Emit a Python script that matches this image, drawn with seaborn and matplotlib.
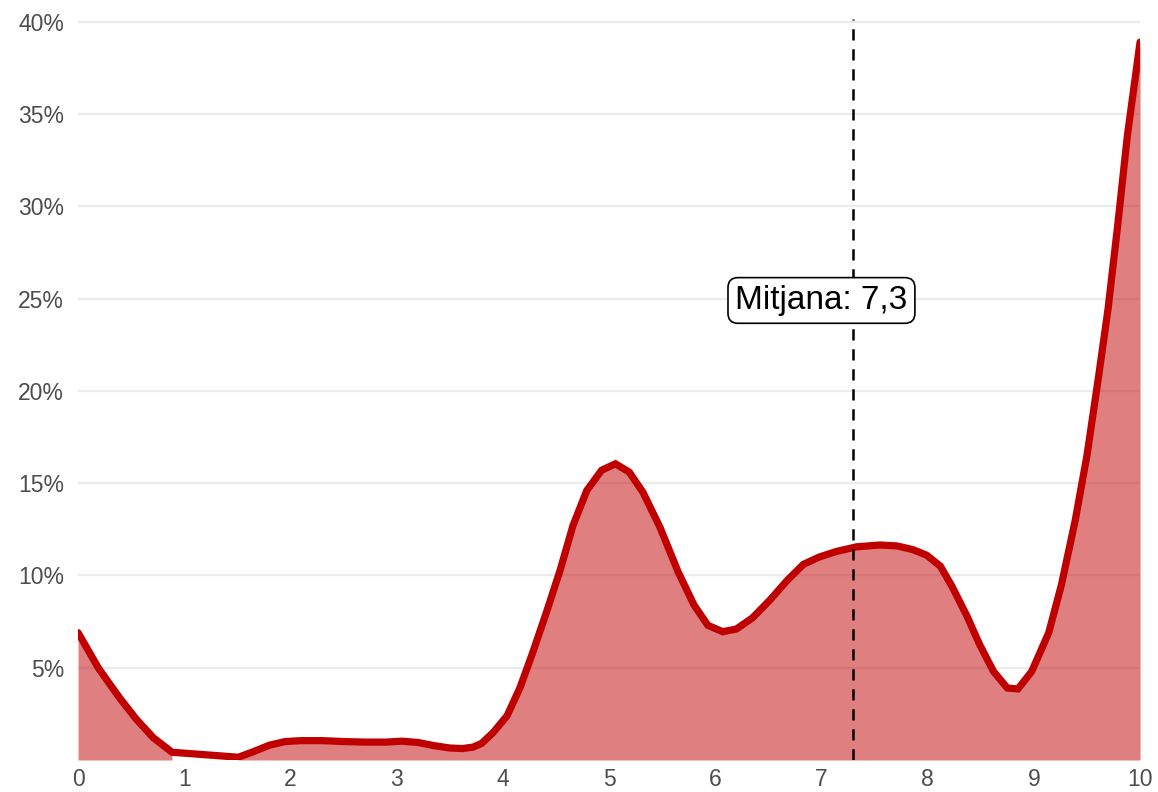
"""Distribution of scores (0-10) with the mean marked."""

import matplotlib

matplotlib.use("Agg")
import matplotlib.pyplot as plt
import numpy as np
import seaborn as sns
from matplotlib.ticker import FuncFormatter

# values (share of answers, in %)
# first stretch (filled)
score_low = [0.00, 0.10, 0.19, 0.30, 0.40, 0.55, 0.71, 0.80, 0.885]
share_low = [6.9, 5.9, 5.0, 4.1, 3.3, 2.2, 1.2, 0.8, 0.42]

# second stretch (filled)
score_high = [
    1.51, 1.65, 1.80, 1.95, 2.10, 2.30, 2.50, 2.70, 2.90, 3.05,
    3.20, 3.35, 3.50, 3.62, 3.72, 3.80, 3.91, 4.04, 4.16, 4.28,
    4.41, 4.54, 4.66, 4.79, 4.93, 5.06, 5.19, 5.32, 5.48, 5.65,
    5.80, 5.93, 6.07, 6.20, 6.35, 6.52, 6.68, 6.83, 6.98, 7.14,
    7.33, 7.55, 7.71, 7.86, 7.99, 8.12, 8.23, 8.37, 8.49, 8.62,
    8.75, 8.85, 8.98, 9.14, 9.26, 9.39, 9.50, 9.61, 9.70, 9.79,
    9.88, 10.0,
]
share_high = [
    0.15, 0.45, 0.80, 1.00, 1.05, 1.05, 1.00, 0.97, 0.97, 1.02,
    0.95, 0.78, 0.65, 0.62, 0.70, 0.90, 1.50, 2.40, 3.90, 5.80,
    8.00, 10.3, 12.7, 14.6, 15.7, 16.05, 15.6, 14.5, 12.6, 10.2,
    8.40, 7.30, 6.95, 7.10, 7.70, 8.70, 9.75, 10.6, 11.0, 11.3,
    11.55, 11.65, 11.6, 11.4, 11.1, 10.5, 9.40, 7.80, 6.25, 4.80,
    3.90, 3.85, 4.80, 6.90, 9.50, 13.0, 16.5, 20.8, 24.5, 29.0,
    33.8, 38.9,
]

mean_score = 7.3
mean_label = "Mitjana: 7,3"
x_ticks = list(range(0, 11))
y_ticks = [5, 10, 15, 20, 25, 30, 35, 40]

LINE_RED = "#C00000"
TICK_GREY = "#4D4D4D"

sns.set_theme(style="white")
plt.rcParams["font.family"] = ["Liberation Sans", "DejaVu Sans"]

fig = plt.figure(figsize=(11.58, 7.92), dpi=100)
ax = fig.add_axes([0.0674, 0.0404, 0.9171, 0.9356])

for y in y_ticks:
    ax.axhline(y, color="#EBEBEB", linewidth=1.6, zorder=0)

ax.fill_between(score_low, share_low, 0, color=LINE_RED, alpha=0.5, linewidth=0, zorder=1)
ax.fill_between(score_high, share_high, 0, color=LINE_RED, alpha=0.5, linewidth=0, zorder=1)

scores = np.array(score_low + score_high)
shares = np.array(share_low + share_high)
sns.lineplot(x=scores, y=shares, ax=ax, color=LINE_RED, linewidth=5.2, sort=False,
             zorder=3, solid_joinstyle="miter")

ax.axvline(mean_score, color="black", linewidth=1.8, linestyle=(0, (4.5, 3.5)), zorder=4)
ax.text(mean_score - 0.3, 24.9, mean_label, ha="center", va="center", fontsize=24,
        color="black", zorder=5,
        bbox=dict(boxstyle="round,pad=0.22,rounding_size=0.3", facecolor="white",
                  edgecolor="black", linewidth=1.2))

ax.set_xlim(0, 10)
ax.set_ylim(0, 40.15)
ax.set_xticks(x_ticks)
ax.set_yticks(y_ticks)
ax.yaxis.set_major_formatter(FuncFormatter(lambda v, _: f"{v:.0f}%"))
ax.tick_params(axis="both", length=0, labelsize=16.5, labelcolor=TICK_GREY)
ax.tick_params(axis="x", pad=6)
ax.tick_params(axis="y", pad=10)
ax.set_xlabel("")
ax.set_ylabel("")
for spine in ax.spines.values():
    spine.set_visible(False)

fig.savefig("out.png", dpi=100)
